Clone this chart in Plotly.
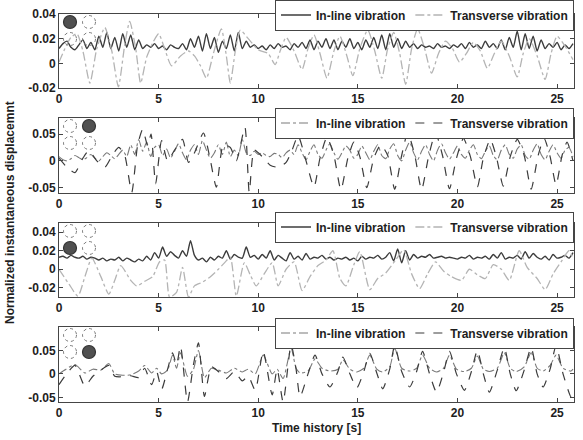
import numpy as np
import plotly.graph_objects as go
from plotly.subplots import make_subplots

# ---------------- data ----------------
legend_names = ["In-line vibration", "Transverse vibration"]
x_ticks = [0, 5, 10, 15, 20, 25]
y_ticks = [[-0.02, 0, 0.02, 0.04], [-0.05, 0, 0.05], [-0.02, 0, 0.02, 0.04], [-0.05, 0, 0.05]]
y_ticktext = [["-0.02", "0", "0.02", "0.04"], ["-0.05", "0", "0.05"],
              ["-0.02", "0", "0.02", "0.04"], ["-0.05", "0", "0.05"]]
y_ranges = [[-0.02, 0.04], [-0.06, 0.08], [-0.03, 0.05], [-0.06, 0.10]]
x_range = [0, 25.85]
# which cylinder (row, col) of the 2x2 arrangement is highlighted per panel
highlight = [(0, 0), (0, 1), (1, 0), (1, 1)]

# sample times for the uniformly sampled in-line records (0 ... 25.8 s, 0.2 s step)
t_grid = np.round(np.arange(130) * 0.2, 1)

p1_inline = [0.012, 0.016, 0.018, 0.013, 0.011, 0.015, 0.019, 0.012, 0.017, 0.011,
             0.022, 0.013, 0.025, 0.012, 0.021, 0.010, 0.024, 0.013, 0.023, 0.011,
             0.019, 0.012, 0.015, 0.013, 0.016, 0.012, 0.014, 0.011, 0.015, 0.013,
             0.012, 0.016, 0.011, 0.020, 0.013, 0.022, 0.010, 0.024, 0.012, 0.021,
             0.009, 0.018, 0.012, 0.023, 0.010, 0.025, 0.012, 0.018, 0.013, 0.015,
             0.012, 0.014, 0.011, 0.015, 0.012, 0.016, 0.013, 0.014, 0.011, 0.016,
             0.013, 0.017, 0.012, 0.019, 0.011, 0.018, 0.013, 0.020, 0.012, 0.019,
             0.011, 0.018, 0.013, 0.020, 0.012, 0.017, 0.011, 0.019, 0.013, 0.021,
             0.012, 0.023, 0.011, 0.024, 0.013, 0.020, 0.012, 0.018, 0.013, 0.016,
             0.012, 0.015, 0.013, 0.014, 0.012, 0.016, 0.013, 0.014, 0.012, 0.015,
             0.013, 0.016, 0.012, 0.017, 0.013, 0.015, 0.012, 0.018, 0.013, 0.016,
             0.012, 0.019, 0.011, 0.021, 0.013, 0.026, 0.011, 0.024, 0.012, 0.022,
             0.010, 0.019, 0.012, 0.016, 0.013, 0.017, 0.011, 0.015, 0.012, 0.016]

p1_trans_t = [0.0, 0.3, 0.6, 0.9, 1.2, 1.55, 1.9, 2.3, 2.65, 2.98,
              3.3, 3.55, 3.85, 4.1, 4.4, 4.75, 5.0, 5.3, 5.65, 6.1,
              6.5, 6.8, 7.1, 7.4, 7.75, 8.15, 8.4, 8.6, 8.85, 9.1,
              9.5, 10.0, 10.5, 10.85, 11.1, 11.4, 11.8, 12.2, 12.5, 12.8,
              13.1, 13.45, 13.8, 14.1, 14.45, 14.75, 15.1, 15.5, 15.85, 16.2,
              16.5, 16.8, 17.1, 17.4, 17.7, 18.0, 18.35, 18.7, 19.05, 19.4,
              19.75, 20.1, 20.45, 20.8, 21.15, 21.5, 21.85, 22.2, 22.6, 23.0,
              23.3, 23.6, 24.0, 24.4, 24.7, 25.0, 25.4, 25.8]
p1_trans = [0.001, 0.012, 0.021, 0.024, 0.010, -0.016, 0.012, 0.029, 0.010, -0.019,
            0.015, 0.034, 0.012, -0.016, 0.005, 0.018, 0.024, 0.012, -0.002, 0.006,
            0.010, 0.006, -0.002, -0.012, 0.008, 0.028, 0.006, -0.016, 0.010, 0.027,
            0.020, 0.011, 0.008, -0.001, 0.010, 0.021, 0.010, -0.005, 0.012, 0.023,
            0.008, -0.012, 0.010, 0.022, 0.006, -0.010, 0.012, 0.027, 0.010, -0.012,
            0.012, 0.025, 0.008, -0.017, 0.012, 0.028, 0.012, -0.008, 0.008, 0.018,
            0.012, 0.001, 0.008, 0.017, 0.010, -0.004, 0.008, 0.018, 0.006, -0.011,
            0.008, 0.020, 0.006, -0.013, 0.008, 0.022, 0.014, 0.003]

p2_inline = [0.008, 0.002, 0.000, 0.004, 0.010, 0.006, 0.002, 0.006, 0.012, 0.005,
             0.000, 0.008, 0.015, 0.010, 0.004, 0.012, 0.020, 0.008, 0.030, 0.012,
             0.040, 0.018, 0.035, 0.008, 0.025, 0.030, 0.010, 0.022, 0.005, 0.018,
             0.032, 0.015, 0.002, 0.020, 0.030, 0.012, 0.038, 0.020, 0.005, 0.015,
             0.030, 0.012, 0.035, 0.008, 0.020, 0.010, 0.040, 0.015, 0.010, 0.018,
             0.012, 0.015, 0.010, 0.008, 0.014, 0.012, 0.006, 0.015, 0.020, 0.012,
             0.030, 0.015, 0.002, 0.018, 0.030, 0.012, 0.005, 0.020, 0.032, 0.015,
             0.003, 0.015, 0.028, 0.020, 0.005, 0.012, 0.028, 0.015, 0.002, 0.018,
             0.030, 0.010, 0.004, 0.022, 0.032, 0.010, 0.000, 0.020, 0.035, 0.015,
             0.002, 0.018, 0.030, 0.012, 0.000, 0.020, 0.032, 0.015, 0.003, 0.015,
             0.028, 0.012, 0.005, 0.020, 0.030, 0.012, 0.004, 0.018, 0.028, 0.010,
             0.002, 0.020, 0.030, 0.012, 0.005, 0.022, 0.030, 0.010, 0.003, 0.020,
             0.032, 0.012, 0.002, 0.018, 0.030, 0.015, 0.005, 0.020, 0.025, 0.008]

p2_trans_t = [0.0, 0.4, 0.8, 1.2, 1.5, 1.9, 2.3, 2.7, 3.0, 3.3,
              3.65, 3.95, 4.2, 4.45, 4.62, 4.85, 5.15, 5.45, 5.8, 6.2,
              6.5, 6.8, 7.25, 7.55, 7.9, 8.25, 8.6, 8.9, 9.33, 9.55,
              9.8, 10.2, 10.6, 11.0, 11.4, 11.7, 12.0, 12.4, 12.8, 13.1,
              13.45, 13.8, 14.15, 14.5, 14.8, 15.1, 15.45, 15.8, 16.15, 16.5,
              16.85, 17.2, 17.5, 17.85, 18.2, 18.55, 18.9, 19.25, 19.6, 19.95,
              20.3, 20.65, 21.0, 21.3, 21.65, 21.95, 22.3, 22.65, 23.0, 23.35,
              23.7, 24.05, 24.35, 24.65, 24.95, 25.25, 25.5, 25.8]
p2_trans = [0.005, -0.012, -0.022, 0.005, 0.019, 0.000, -0.012, 0.012, 0.025, 0.010,
            -0.059, 0.030, 0.059, 0.028, 0.050, -0.043, 0.038, 0.000, 0.020, 0.040,
            -0.003, 0.015, 0.052, 0.010, -0.049, 0.030, 0.025, 0.000, 0.063, -0.059,
            0.020, 0.008, -0.008, -0.012, -0.003, 0.020, 0.047, 0.000, -0.049, 0.005,
            0.044, 0.010, -0.054, 0.005, 0.035, 0.008, -0.050, 0.005, 0.030, 0.010,
            -0.053, 0.010, 0.052, 0.012, -0.054, 0.008, 0.052, 0.010, -0.052, 0.005,
            0.042, 0.008, -0.049, 0.005, 0.040, 0.008, -0.047, 0.008, 0.040, 0.010,
            -0.053, 0.010, 0.042, 0.008, -0.045, 0.010, 0.035, 0.000]

p3_inline = [0.013, 0.014, 0.012, 0.015, 0.013, 0.012, 0.014, 0.011, 0.013, 0.012,
             0.010, 0.012, 0.009, 0.011, 0.010, 0.013, 0.009, 0.012, 0.010, 0.008,
             0.011, 0.009, 0.014, 0.010, 0.018, 0.012, 0.024, 0.014, 0.019, 0.015,
             0.012, 0.020, 0.014, 0.031, 0.015, 0.010, 0.012, 0.008, 0.013, 0.010,
             0.014, 0.012, 0.020, 0.011, 0.016, 0.013, 0.012, 0.024, 0.013, 0.015,
             0.011, 0.016, 0.012, 0.020, 0.010, 0.015, 0.012, 0.009, 0.018, 0.011,
             0.014, 0.010, 0.017, 0.011, 0.013, 0.012, 0.015, 0.011, 0.013, 0.010,
             0.012, 0.011, 0.013, 0.010, 0.012, 0.009, 0.014, 0.011, 0.013, 0.012,
             0.015, 0.011, 0.013, 0.018, 0.009, 0.022, 0.007, 0.020, 0.010, 0.016,
             0.012, 0.014, 0.013, 0.016, 0.012, 0.013, 0.014, 0.012, 0.013, 0.012,
             0.011, 0.013, 0.012, 0.015, 0.011, 0.013, 0.012, 0.014, 0.011, 0.016,
             0.012, 0.018, 0.011, 0.013, 0.012, 0.015, 0.011, 0.019, 0.012, 0.017,
             0.013, 0.011, 0.014, 0.010, 0.016, 0.012, 0.013, 0.015, 0.012, 0.018]

p3_trans_t = [0.0, 0.5, 0.95, 1.3, 1.65, 2.1, 2.5, 2.8, 3.1, 3.6,
              3.9, 4.3, 4.7, 5.05, 5.3, 5.55, 5.9, 6.2, 6.5, 6.8,
              7.2, 7.6, 8.0, 8.35, 8.6, 8.9, 9.3, 9.6, 9.9, 10.3,
              10.7, 11.0, 11.4, 11.8, 12.2, 12.6, 13.0, 13.4, 13.75, 14.1,
              14.4, 14.8, 15.1, 15.6, 16.0, 16.4, 16.9, 17.3, 17.7, 18.1,
              18.5, 18.9, 19.3, 19.7, 20.2, 20.6, 21.0, 21.4, 21.8, 22.2,
              22.6, 23.1, 23.5, 24.0, 24.4, 24.8, 25.2, 25.6, 25.8]
p3_trans = [0.000, -0.016, -0.029, -0.008, 0.012, -0.008, -0.027, -0.012, 0.004, -0.012,
            -0.018, -0.013, -0.008, 0.008, 0.010, -0.030, -0.025, 0.002, -0.030, -0.018,
            -0.014, -0.008, 0.000, 0.008, 0.013, -0.029, 0.007, -0.006, -0.018, -0.005,
            0.007, -0.018, 0.000, 0.008, -0.023, -0.008, 0.004, 0.010, 0.020, -0.010,
            -0.018, 0.005, 0.019, -0.022, -0.010, -0.004, 0.010, 0.021, -0.005, -0.021,
            -0.005, 0.008, -0.002, -0.008, -0.012, 0.000, -0.006, -0.010, 0.005, 0.000,
            -0.012, 0.020, 0.002, -0.010, -0.022, -0.005, 0.008, 0.020, 0.012]

p4_t = [0.0, 0.35, 0.8, 1.3, 1.7, 2.1, 2.5, 2.8, 3.2, 3.6,
        4.0, 4.3, 4.65, 4.9, 5.15, 5.45, 5.7, 5.9, 6.1, 6.45,
        6.75, 7.0, 7.3, 7.65, 8.0, 8.4, 8.8, 9.2, 9.5, 9.85,
        10.25, 10.7, 10.95, 11.25, 11.65, 11.9, 12.1, 12.5, 12.85, 13.2,
        13.6, 14.0, 14.25, 14.6, 14.95, 15.3, 15.6, 15.95, 16.25, 16.6,
        16.85, 17.2, 17.6, 17.95, 18.25, 18.6, 18.95, 19.3, 19.6, 19.95,
        20.35, 20.7, 21.0, 21.3, 21.6, 22.0, 22.35, 22.65, 22.95, 23.35,
        23.7, 24.0, 24.3, 24.65, 24.95, 25.3, 25.7, 25.8]
p4_inline = [0.000, 0.010, 0.020, 0.002, 0.010, 0.008, 0.022, 0.000, -0.003, -0.002,
             0.006, 0.018, 0.002, 0.012, 0.000, 0.008, 0.040, 0.012, 0.045, -0.005,
             0.010, 0.050, -0.008, 0.012, 0.008, 0.002, 0.012, 0.004, 0.010, 0.000,
             0.040, 0.000, 0.010, -0.010, 0.055, 0.012, 0.002, 0.006, 0.032, 0.012,
             0.006, 0.010, 0.030, 0.010, 0.004, 0.012, 0.040, 0.010, 0.004, 0.015,
             0.055, 0.012, 0.006, 0.012, 0.040, 0.012, 0.004, 0.012, 0.040, 0.010,
             0.005, 0.012, 0.038, 0.010, 0.005, 0.012, 0.045, 0.012, 0.005, 0.015,
             0.045, 0.012, 0.006, 0.018, 0.040, 0.012, 0.006, 0.010]
p4_trans = [-0.023, -0.002, 0.018, -0.026, -0.005, 0.008, 0.018, -0.005, -0.006, -0.004,
            -0.008, 0.012, -0.023, 0.005, -0.033, 0.010, 0.045, 0.020, 0.059, -0.060,
            0.020, 0.066, -0.048, 0.015, 0.005, -0.010, 0.005, -0.015, -0.005, -0.035,
            0.048, -0.045, 0.010, -0.060, 0.062, 0.010, -0.049, 0.000, 0.040, 0.000,
            -0.028, 0.005, 0.036, 0.000, -0.030, 0.005, 0.044, 0.002, -0.032, 0.010,
            0.060, 0.005, -0.028, 0.005, 0.048, 0.000, -0.039, 0.003, 0.048, 0.000,
            -0.035, 0.005, 0.050, 0.000, -0.039, 0.008, 0.056, 0.000, -0.036, 0.008,
            0.056, 0.000, -0.028, 0.010, 0.060, 0.000, -0.049, -0.040]

for a, b in [(t_grid, p1_inline), (p1_trans_t, p1_trans), (t_grid, p2_inline),
             (p2_trans_t, p2_trans), (t_grid, p3_inline), (p3_trans_t, p3_trans),
             (p4_t, p4_inline), (p4_t, p4_trans)]:
    assert len(a) == len(b), (len(a), len(b))

# ---------------- styling ----------------
W, H = 583, 440
ML, MR, MT, MB = 59, 9, 14, 38
PH = H - MT - MB
FONT = "Liberation Sans, Arial, Helvetica, sans-serif"
AX = "#454545"
DARK = "#3c3c3c"
LIGHT = "#b4b4b4"
MID = "#7a7a7a"

# panel pixel extents (top, bottom) and legend centre line
panels_px = [(14, 88), (118, 193), (223, 297), (327, 402)]
legend_cy = [15, 123, 227, 333]


def py2paper(py):
    return 1 - (py - MT) / PH


def px2paper(px):
    return (px - ML) / (W - ML - MR)


series = [
    [(t_grid, p1_inline, dict(color=DARK, width=1.4, dash="solid")),
     (p1_trans_t, p1_trans, dict(color=LIGHT, width=1.3, dash="dashdot"))],
    [(t_grid, p2_inline, dict(color=MID, width=1.1, dash="dashdot")),
     (p2_trans_t, p2_trans, dict(color=DARK, width=1.2, dash="dash"))],
    [(t_grid, p3_inline, dict(color=DARK, width=1.4, dash="solid")),
     (p3_trans_t, p3_trans, dict(color=LIGHT, width=1.3, dash="dashdot"))],
    [(p4_t, p4_inline, dict(color=MID, width=1.1, dash="dashdot")),
     (p4_t, p4_trans, dict(color=DARK, width=1.2, dash="dash"))],
]

fig = make_subplots(rows=4, cols=1)

layout_upd = {}
shapes = []
for i in range(4):
    leg = "legend" if i == 0 else f"legend{i + 1}"
    for (tt, vv, ln), name in zip(series[i], legend_names):
        ln = dict(ln, shape="spline", smoothing=0.6)
        fig.add_trace(go.Scatter(x=tt, y=vv, mode="lines", name=name, line=ln,
                                 legend=leg, showlegend=True), row=i + 1, col=1)
    top, bot = panels_px[i]
    sfx = "" if i == 0 else str(i + 1)
    layout_upd[f"yaxis{sfx}"] = dict(
        domain=[py2paper(bot), py2paper(top)], range=y_ranges[i],
        tickvals=y_ticks[i], ticktext=y_ticktext[i])
    layout_upd[f"xaxis{sfx}"] = dict(domain=[0, 1], range=x_range, tickvals=x_ticks)
    layout_upd[leg] = dict(
        orientation="h", x=1.0, xanchor="right",
        y=py2paper(legend_cy[i]), yanchor="middle",
        bgcolor="white", bordercolor=AX, borderwidth=1,
        font=dict(family=FONT, size=12, color="#1e1e1e", weight="bold"),
        itemwidth=30, tracegroupgap=0)
    # 2x2 cylinder arrangement markers
    for r, ry in enumerate([top + 8, top + 25]):
        for c, cx in enumerate([70, 89]):
            filled = (r, c) == highlight[i]
            shapes.append(dict(
                type="circle", xref="paper", yref="paper",
                xsizemode="pixel", ysizemode="pixel",
                xanchor=px2paper(cx), yanchor=py2paper(ry),
                x0=-6.5, x1=6.5, y0=-6.5, y1=6.5,
                fillcolor="#505050" if filled else "rgba(255,255,255,0)",
                line=dict(color="#333333" if filled else "#7a7a7a",
                          width=1.2 if filled else 1,
                          dash="solid" if filled else "dot"),
                layer="above"))

fig.update_layout(**layout_upd)
fig.update_xaxes(showline=True, linecolor=AX, linewidth=1, mirror="ticks",
                 ticks="inside", ticklen=4, tickcolor=AX, showgrid=False, zeroline=False,
                 tickfont=dict(family=FONT, size=12, color="#1e1e1e", weight="bold"))
fig.update_yaxes(showline=True, linecolor=AX, linewidth=1, mirror="ticks",
                 ticks="inside", ticklen=4, tickcolor=AX, showgrid=False, zeroline=False,
                 tickfont=dict(family=FONT, size=12, color="#1e1e1e", weight="bold"))

fig.update_layout(
    width=W, height=H, margin=dict(l=ML, r=MR, t=MT, b=MB, autoexpand=False),
    paper_bgcolor="white", plot_bgcolor="white",
    shapes=shapes,
    annotations=[
        dict(text="Normalized instantaneous displacemnt", xref="paper", yref="paper",
             x=px2paper(10), y=py2paper(213), xanchor="center", yanchor="middle",
             textangle=-90, showarrow=False,
             font=dict(family=FONT, size=12, color="#1e1e1e", weight="bold")),
        dict(text="Time history [s]", xref="paper", yref="paper",
             x=px2paper(316), y=py2paper(428), xanchor="center", yanchor="middle",
             showarrow=False,
             font=dict(family=FONT, size=12, color="#1e1e1e", weight="bold")),
    ],
)

fig.write_html("out.html",
               config={"displayModeBar": False},
               post_script="document.body.style.margin='0';"
                           "document.body.style.overflow='hidden';")
